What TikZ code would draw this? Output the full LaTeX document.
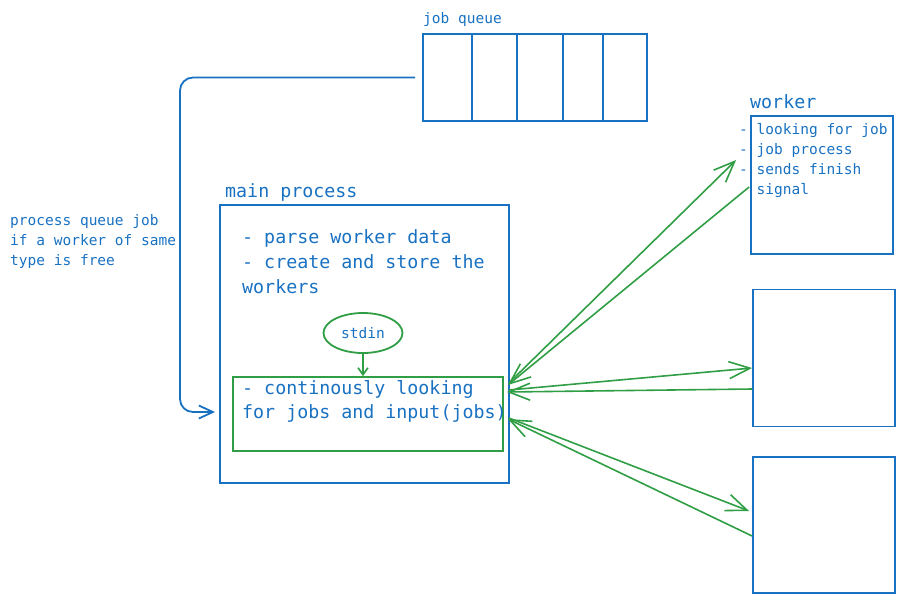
\documentclass[tikz,border=0pt]{standalone}
\usepackage{fontspec}
\newfontfamily\xf{DejaVu Sans Mono}
\usetikzlibrary{arrows.meta,shapes.geometric}
\definecolor{xblue}{HTML}{1971C2}
\definecolor{xgreen}{HTML}{2F9E44}
\begin{document}
\begin{tikzpicture}[x=1pt,y=-1pt,
  box/.style={draw=xblue,line width=1.8pt,inner sep=0pt},
  gbox/.style={draw=xgreen,line width=1.8pt,inner sep=0pt},
  small/.style={font=\xf\fontsize{14.5}{20}\selectfont,text=xblue,inner sep=0pt,anchor=base west},
  big/.style={font=\xf\fontsize{18.3}{25}\selectfont,text=xblue,inner sep=0pt,anchor=base west},
  garrow/.style={draw=xgreen,line width=1.6pt,-{Straight Barb[length=21pt,width=17pt,line width=1.6pt]}},
  barrow/.style={draw=xblue,line width=1.8pt,rounded corners=13pt,-{Straight Barb[length=14pt,width=13pt,line width=1.8pt]}}
]
\useasboundingbox (0,0) rectangle (909,603);
% job queue
\node[box,minimum width=224pt,minimum height=87pt] (jq) at (535,77.5) {};
\foreach \xx in {472,517,563,603} \draw[xblue,line width=1.8pt] (\xx,34) -- (\xx,121);
\node[small] (jql) at (423,23) {job queue};
% left label
\node[small] (l1) at (10,225) {process queue job};
\node[small] (l2) at (10,245) {if a worker of same};
\node[small] (l3) at (10,265) {type is free};
% main process
\node[big] (mpl) at (225,197) {main process};
\node[box,minimum width=289pt,minimum height=278pt] (main) at (364.5,344) {};
\node[big] (m1) at (242,243) {- parse worker data};
\node[big] (m2) at (242,268) {- create and store the};
\node[big] (m3) at (242,293) {workers};
\node[gbox,ellipse,minimum width=79pt,minimum height=40pt,font=\xf\fontsize{14.5}{20}\selectfont,text=xblue] (stdin) at (363,333) {stdin};
\node[gbox,minimum width=270pt,minimum height=74pt] (loop) at (368,414) {};
\node[big] (c1) at (242,394) {- continously looking};
\node[big] (c2) at (242,418) {for jobs and input(jobs)};
\draw[draw=xgreen,line width=1.6pt,-{Straight Barb[length=7pt,width=10pt,line width=1.6pt]}] (stdin.south) -- (loop.north -| stdin.south);
% workers
\node[big] (wl) at (750,108) {worker};
\node[box,minimum width=142pt,minimum height=138pt] (w1) at (822,185) {};
\node[box,minimum width=142pt,minimum height=137pt] (w2) at (824,358) {};
\node[box,minimum width=142pt,minimum height=136pt] (w3) at (824,525) {};
\node[small] (t1) at (739,134) {- looking for job};
\node[small] (t2) at (739,154) {- job process};
\node[small] (t3) at (739,174) {- sends finish};
\node[small] (t4) at (739,194) {\hphantom{- }signal};
% queue connector
\coordinate (qa) at (215,412);
\draw[barrow] ([xshift=-7pt]jq.west) -| (180,412) -- (qa);
% green connectors
\draw[garrow] ([shift={(5,-31)}]loop.east) -- ([shift={(-14,-25)}]w1.west);
\draw[garrow] ([shift={(-1,2)}]w1.west) -- ([shift={(4,-29)}]loop.east);
\draw[garrow] ([shift={(5,-24)}]loop.east) -- ([shift={(0,10)}]w2.west);
\draw[garrow] ([shift={(0,31)}]w2.west) -- ([shift={(3,-22)}]loop.east);
\draw[garrow] ([shift={(5,4)}]loop.east) -- ([shift={(-3,-14)}]w3.west);
\draw[garrow] ([shift={(0,11)}]w3.west) -- ([shift={(4,5)}]loop.east);
\end{tikzpicture}
\end{document}
